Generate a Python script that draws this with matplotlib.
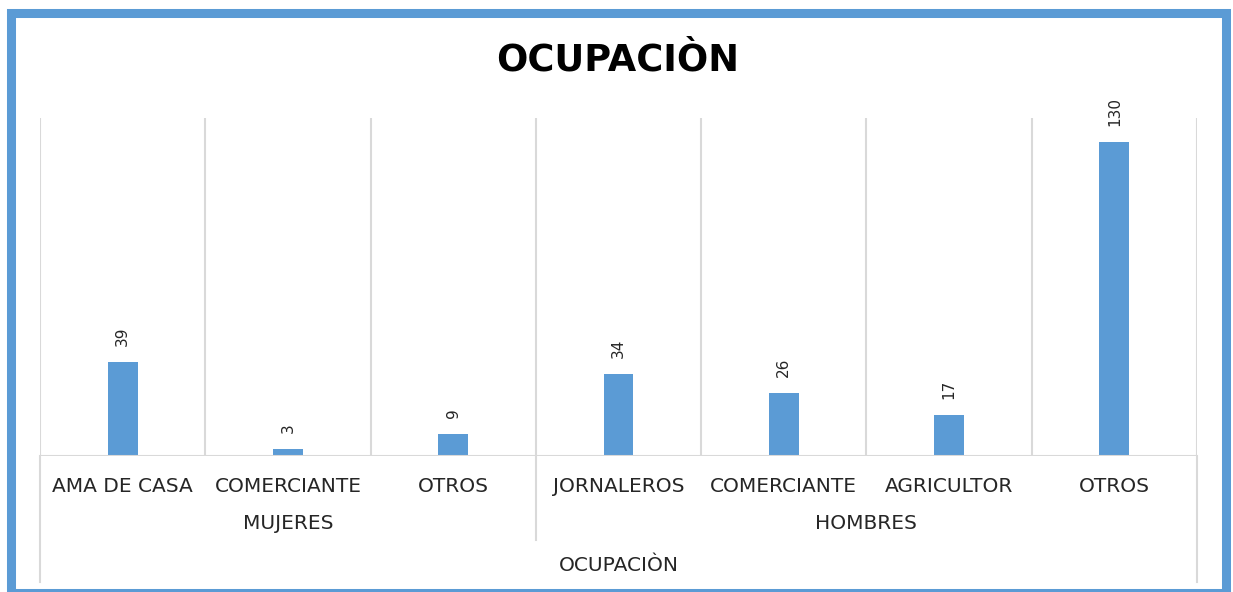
import matplotlib.pyplot as plt
from matplotlib.patches import Rectangle

categories = ['AMA DE CASA', 'COMERCIANTE', 'OTROS',
              'JORNALEROS', 'COMERCIANTE', 'AGRICULTOR', 'OTROS']
values = [39, 3, 9, 34, 26, 17, 130]
groups = ['MUJERES', 'HOMBRES']
group_sizes = [3, 4]

blue = '#5B9BD5'
grid = '#D9D9D9'
txt = '#262626'

fig = plt.figure(figsize=(12.33, 5.92), dpi=100)
W, H = 1233, 592
ax = fig.add_axes([40 / W, (H - 456) / H, (1197 - 40) / W, (456 - 118) / H])

x = list(range(len(categories)))
ax.bar(x, values, width=0.18, color=blue, zorder=3)
ax.set_xlim(-0.5, len(categories) - 0.5)
ax.set_ylim(0, 140)

for xi, v in zip(x, values):
    ax.annotate(str(v), (xi, v), xytext=(0, 16), textcoords='offset pixels',
                rotation=90, ha='center', va='bottom', fontsize=11, color=txt)

for s in ax.spines.values():
    s.set_visible(False)
ax.set_yticks([])
ax.set_xticks(x)
ax.set_xticklabels(categories, fontsize=14.5, color=txt)
ax.tick_params(axis='x', length=0, pad=15)

# vertical gridlines between categories
for b in range(len(categories) + 1):
    ax.axvline(b - 0.5, color=grid, lw=1.5, zorder=1)
ax.axhline(0, color=grid, lw=1.5, zorder=4)

# group separators and labels below the axis
xt = ax.get_xaxis_transform()
ax.plot([-0.5, -0.5], [0, -0.373], transform=xt, color=grid, lw=1.5, clip_on=False)
ax.plot([6.5, 6.5], [0, -0.373], transform=xt, color=grid, lw=1.5, clip_on=False)
start = -0.5
for g, n in zip(groups, group_sizes):
    ax.text(start + n / 2, -0.201, g, transform=xt, ha='center', va='center',
            fontsize=14.5, color=txt)
    start += n
    if start < len(categories) - 0.5:
        ax.plot([start, start], [0, -0.2485], transform=xt, color=grid, lw=1.5,
                clip_on=False)
ax.text(3, -0.325, 'OCUPACIÒN', transform=xt, ha='center', va='center',
        fontsize=14.5, color=txt)

fig.text(618 / W, (H - 60) / H, 'OCUPACIÒN', ha='center', va='center',
         fontsize=26.5, fontweight='bold', color='black')

fig.patches.append(Rectangle((10.5 / W, -1 / H), (1226 - 10.5) / W, (593 - 12.5) / H,
                             transform=fig.transFigure, fill=False,
                             edgecolor=blue, lw=6.5))

fig.savefig('out.png', dpi=100)
